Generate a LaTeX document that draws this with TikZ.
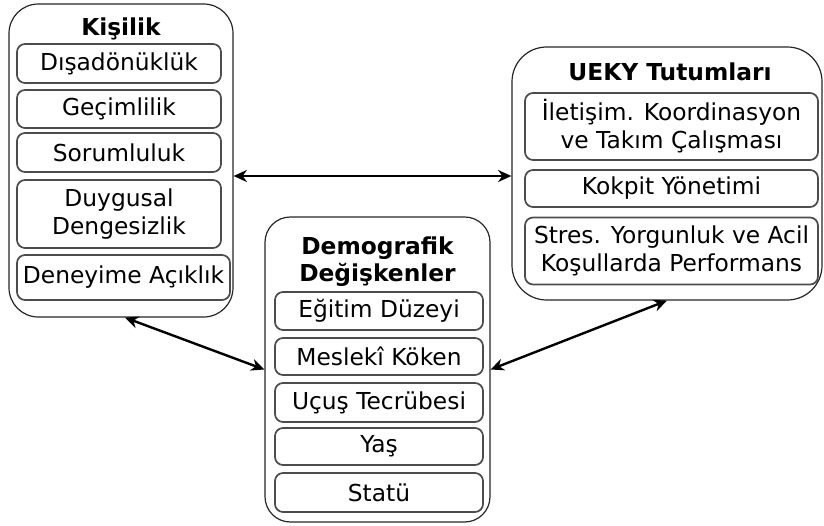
\documentclass[tikz,border=0pt]{standalone}
\usepackage{fontspec}
\setmainfont{DejaVu Sans}
\usetikzlibrary{arrows.meta}
\begin{document}
\begin{tikzpicture}[x=0.75pt,y=-0.75pt,
  every node/.style={font=\fontsize{17.5}{21}\selectfont, inner sep=0pt, align=center},
  outerbox/.style={draw=black!85, line width=0.9pt, rectangle},
  innerbox/.style={draw=black!70, line width=1.3pt, rectangle, rounded corners=6pt},
  title/.style={font=\fontsize{17.5}{20.5}\selectfont\bfseries},
  link/.style={{Stealth[length=10pt,width=9pt]}-{Stealth[length=10pt,width=9pt]}, line width=1.8pt, black}]
\useasboundingbox (0,0) rectangle (824,525);
% Left box
\node[outerbox, rounded corners=22pt, minimum width=168pt, minimum height=234.75pt] (L) at (121,160.5) {};
\node[title] (Lt) at (121,29) {Kişilik};
\node[innerbox, minimum width=153pt, minimum height=29.25pt] (L1) at (119,63.5) {Dışadönüklük};
\node[innerbox, minimum width=153pt, minimum height=28.5pt] (L2) at (119,109) {Geçimlilik};
\node[innerbox, minimum width=153pt, minimum height=29.25pt] (L3) at (119,152.5) {Sorumluluk};
\node[innerbox, minimum width=153pt, minimum height=51pt] (L4) at (119,214) {Duygusal\\Dengesizlik};
\node[innerbox, minimum width=159.75pt, minimum height=33.75pt] (L5) at (123.5,277.5) {Deneyime Açıklık};
% Right box
\node[outerbox, rounded corners=26pt, minimum width=232.5pt, minimum height=189.75pt] (R) at (667,173.5) {};
\node[title] (Rt) at (670,72) {UEKY Tutumları};
\node[innerbox, minimum width=219.75pt, minimum height=50.25pt] (R1) at (671.5,126.5) {İletişim. Koordinasyon\\ve Takım Çalışması};
\node[innerbox, minimum width=219.75pt, minimum height=27.75pt] (R2) at (671.5,188.5) {Kokpit Yönetimi};
\node[innerbox, minimum width=219.75pt, minimum height=50.25pt] (R3) at (671.5,251) {Stres. Yorgunluk ve Acil\\Koşullarda Performans};
% Middle box
\node[outerbox, rounded corners=19pt, minimum width=168.75pt, minimum height=228.75pt] (M) at (377.5,369.5) {};
\node[title] (Mt) at (377.5,261.5) {Demografik\\Değişkenler};
\node[innerbox, minimum width=156pt, minimum height=28.5pt] (M1) at (379,311) {Eğitim Düzeyi};
\node[innerbox, minimum width=156pt, minimum height=27.75pt] (M2) at (379,356.5) {Meslekî Köken};
\node[innerbox, minimum width=156pt, minimum height=29.25pt] (M3) at (379,402.5) {Uçuş Tecrübesi};
\node[innerbox, minimum width=156pt, minimum height=27.75pt] (M4) at (379,446.5) {Yaş};
\node[innerbox, minimum width=156pt, minimum height=29.25pt] (M5) at (379,492.5) {Statü};
% Connectors
\coordinate (h) at (0,176);
\draw[link] (L.east |- h) -- (R.west |- h);
\draw[link] ([xshift=3pt]L.south) -- (M.west);
\draw[link] (M.east) -- (R.south);
\end{tikzpicture}
\end{document}
